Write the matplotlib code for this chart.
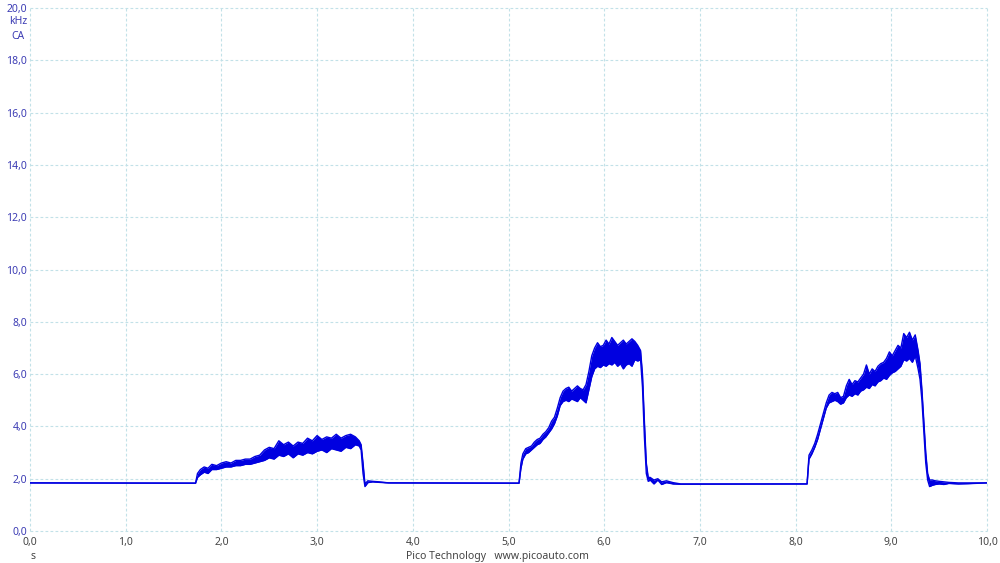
import numpy as np
import matplotlib.pyplot as plt

plt.rcParams['font.family'] = ['Noto Sans', 'DejaVu Sans']

# time (s) and lower/upper envelope of the signal band (kHz)
t = [0.00, 1.73,
     1.75, 1.78, 1.82, 1.86, 1.90, 1.95, 2.00, 2.05, 2.10, 2.15, 2.20, 2.25, 2.30, 2.35,
     2.40, 2.45, 2.50, 2.55, 2.60, 2.65, 2.70, 2.75, 2.80, 2.85, 2.90, 2.95, 3.00, 3.05,
     3.10, 3.15, 3.20, 3.25, 3.30, 3.35, 3.40, 3.44, 3.46, 3.48, 3.50, 3.53, 3.58, 3.65,
     3.75, 5.11,
     5.13, 5.15, 5.18, 5.21, 5.24, 5.27, 5.30, 5.33, 5.36, 5.39, 5.42, 5.45, 5.48, 5.51,
     5.54, 5.57, 5.60, 5.63, 5.66, 5.69, 5.72, 5.75, 5.78, 5.81, 5.84, 5.87, 5.90, 5.93,
     5.96, 5.99, 6.02, 6.05, 6.08, 6.11, 6.14, 6.17, 6.20, 6.23, 6.26, 6.29, 6.32, 6.35,
     6.38, 6.40, 6.42, 6.44, 6.46, 6.48, 6.52, 6.56, 6.60, 6.65, 6.72, 6.80, 8.12,
     8.14, 8.17, 8.20, 8.23, 8.26, 8.29, 8.32, 8.35, 8.38, 8.41, 8.44, 8.47, 8.50, 8.53,
     8.56, 8.59, 8.62, 8.65, 8.68, 8.71, 8.74, 8.77, 8.80, 8.83, 8.86, 8.89, 8.92, 8.95,
     8.98, 9.01, 9.04, 9.07, 9.10, 9.13, 9.16, 9.19, 9.22, 9.25, 9.28, 9.30, 9.32, 9.34,
     9.36, 9.38, 9.40, 9.43, 9.46, 9.50, 9.55, 9.60, 9.70, 9.80, 10.0]

lo = [1.84, 1.83,
      2.05, 2.15, 2.25, 2.20, 2.35, 2.35, 2.40, 2.45, 2.45, 2.50, 2.50, 2.55, 2.55, 2.60,
      2.65, 2.70, 2.80, 2.75, 2.90, 2.85, 2.95, 2.80, 2.95, 2.90, 3.00, 2.95, 3.05, 3.10,
      3.00, 3.15, 3.10, 3.05, 3.20, 3.15, 3.30, 3.25, 3.10, 2.20, 1.70, 1.85, 1.88, 1.86,
      1.84, 1.83,
      2.40, 2.75, 2.95, 3.00, 3.10, 3.20, 3.30, 3.35, 3.50, 3.60, 3.75, 3.90, 4.10, 4.40,
      4.80, 4.95, 5.00, 4.95, 5.05, 5.00, 4.95, 5.10, 5.00, 4.90, 5.40, 5.90, 6.20, 6.30,
      6.25, 6.35, 6.30, 6.40, 6.35, 6.45, 6.30, 6.40, 6.20, 6.35, 6.40, 6.30, 6.55, 6.50,
      6.55, 5.50, 3.60, 2.20, 1.90, 1.95, 1.80, 1.95, 1.78, 1.85, 1.80, 1.79, 1.80,
      2.75, 2.95, 3.20, 3.50, 3.90, 4.30, 4.70, 4.90, 4.95, 5.00, 4.95, 4.85, 4.90, 5.10,
      5.20, 5.15, 5.25, 5.20, 5.35, 5.40, 5.50, 5.45, 5.60, 5.55, 5.70, 5.75, 5.85, 5.80,
      5.95, 6.05, 6.10, 6.20, 6.30, 6.55, 6.50, 6.60, 6.45, 6.70, 6.20, 5.80, 5.00, 3.80,
      2.60, 1.95, 1.70, 1.75, 1.78, 1.80, 1.78, 1.82, 1.80, 1.81, 1.84]

hi = [1.84, 1.83,
      2.20, 2.35, 2.45, 2.40, 2.55, 2.50, 2.60, 2.65, 2.60, 2.70, 2.70, 2.75, 2.75, 2.85,
      2.90, 3.10, 3.20, 3.15, 3.45, 3.30, 3.40, 3.25, 3.40, 3.35, 3.55, 3.45, 3.65, 3.50,
      3.60, 3.55, 3.70, 3.55, 3.65, 3.70, 3.60, 3.45, 3.30, 2.60, 1.80, 1.92, 1.90, 1.88,
      1.84, 1.83,
      2.60, 2.95, 3.15, 3.20, 3.25, 3.40, 3.50, 3.55, 3.70, 3.80, 3.95, 4.20, 4.35, 4.70,
      5.10, 5.35, 5.45, 5.50, 5.35, 5.45, 5.55, 5.45, 5.40, 5.60, 6.10, 6.70, 7.00, 7.20,
      7.05, 7.10, 7.30, 7.15, 7.40, 7.25, 7.10, 7.20, 7.30, 7.15, 7.25, 7.35, 7.25, 7.10,
      6.90, 6.00, 4.20, 2.60, 2.05, 2.05, 1.95, 2.00, 1.88, 1.92, 1.85, 1.80, 1.80,
      2.90, 3.10, 3.35, 3.70, 4.10, 4.50, 4.90, 5.20, 5.30, 5.25, 5.30, 5.10, 5.15, 5.55,
      5.80, 5.60, 5.75, 5.70, 5.85, 6.00, 6.35, 6.00, 6.20, 6.10, 6.30, 6.40, 6.45, 6.60,
      6.85, 6.70, 6.90, 7.10, 7.00, 7.55, 7.40, 7.60, 7.30, 7.50, 6.90, 6.40, 5.40, 4.20,
      3.00, 2.20, 1.95, 1.95, 1.92, 1.90, 1.88, 1.86, 1.84, 1.84, 1.84]

x_ticks = [0, 1, 2, 3, 4, 5, 6, 7, 8, 9, 10]
y_ticks = [0, 2, 4, 6, 8, 10, 12, 14, 16, 18, 20]

line_col = "#0000e0"
grid_col = "#c2e1e8"

fig = plt.figure(figsize=(10, 5.63), dpi=100)
ax = fig.add_axes([0.030, 0.0568, 0.957, 0.929])

ax.fill_between(t, lo, hi, color=line_col, linewidth=0)
ax.plot(t, lo, color=line_col, linewidth=1.0)
ax.plot(t, hi, color=line_col, linewidth=1.0)

ax.set_xlim(0, 10)
ax.set_ylim(0, 20)
ax.set_xticks(x_ticks)
ax.set_yticks(y_ticks)
ax.set_xticklabels([f"{v:.1f}".replace(".", ",") for v in x_ticks])
ax.set_yticklabels([f"{v:.1f}".replace(".", ",") for v in y_ticks])
ax.tick_params(length=0, labelsize=7.5)
ax.tick_params(axis="y", colors="#3c3cb4", pad=2)
ax.tick_params(axis="x", colors="#444444", pad=4)
for s in ax.spines.values():
    s.set_visible(False)

ax.grid(True, color=grid_col, linestyle=(0, (2.5, 2)), linewidth=0.8)
for gl in ax.get_xgridlines() + ax.get_ygridlines():
    gl.set_clip_on(False)
ax.set_axisbelow(True)

fig.text(0.027, 0.962, "kHz", color="#3c3cb4", fontsize=7.5, ha="right", va="center")
fig.text(0.024, 0.936, "CA", color="#3c3cb4", fontsize=7.5, ha="right", va="center")
fig.text(0.033, 0.012, "s", color="#444444", fontsize=7.5, ha="center", va="center")
fig.text(0.497, 0.012, "Pico Technology   www.picoauto.com", color="#444444",
         fontsize=7.5, ha="center", va="center")

fig.savefig("out.png", dpi=100)
